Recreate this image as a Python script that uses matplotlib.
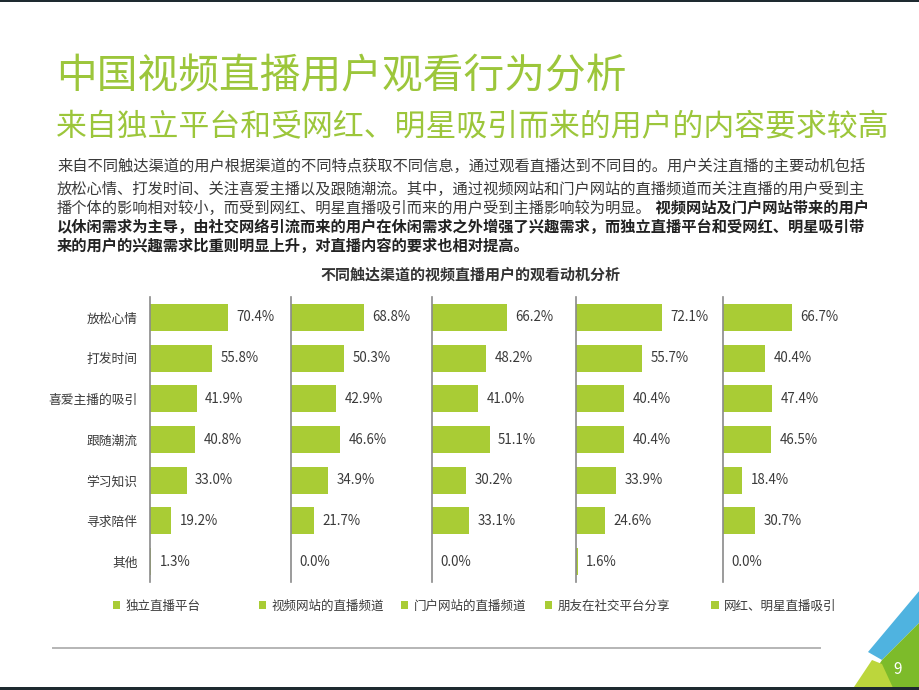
import matplotlib
matplotlib.use('Agg')
import matplotlib.pyplot as plt
from matplotlib.patches import Patch, Polygon, Rectangle
from matplotlib.lines import Line2D

plt.rcParams['font.family'] = ['Noto Sans CJK SC', 'DejaVu Sans']

categories = ['放松心情', '打发时间', '喜爱主播的吸引', '跟随潮流', '学习知识', '寻求陪伴', '其他']
channels = ['独立直播平台', '视频网站的直播频道', '门户网站的直播频道', '朋友在社交平台分享', '网红、明星直播吸引']
independent = [70.4, 55.8, 41.9, 40.8, 33.0, 19.2, 1.3]
video_site = [68.8, 50.3, 42.9, 46.6, 34.9, 21.7, 0.0]
portal = [66.2, 48.2, 41.0, 51.1, 30.2, 33.1, 0.0]
social = [72.1, 55.7, 40.4, 40.4, 33.9, 24.6, 1.6]
celebrity = [66.7, 40.4, 47.4, 46.5, 18.4, 30.7, 0.0]
series = [independent, video_site, portal, social, celebrity]

W, H = 920, 690
GREEN = '#a9cc35'
TITLE_GREEN = '#9cc63b'
TEXT = '#3a3a3a'


def fx(x):
    return x / W


def fy(y):
    return 1 - y / H


fig = plt.figure(figsize=(9.2, 6.9), dpi=100)

# headings
fig.text(fx(56), fy(77), '中国视频直播用户观看行为分析', fontsize=29.3, color=TITLE_GREEN, va='center')
fig.text(fx(56), fy(128), '来自独立平台和受网红、明星吸引而来的用户的内容要求较高', fontsize=22.2,
         color=TITLE_GREEN, va='center')

# paragraph
para = [
    ('来自不同触达渠道的用户根据渠道的不同特点获取不同信息，通过观看直播达到不同目的。用户关注直播的主要动机包括', ''),
    ('放松心情、打发时间、关注喜爱主播以及跟随潮流。其中，通过视频网站和门户网站的直播频道而关注直播的用户受到主', ''),
    ('播个体的影响相对较小，而受到网红、明星直播吸引而来的用户受到主播影响较为明显。', ' 视频网站及门户网站带来的用户'),
    ('', '以休闲需求为主导，由社交网络引流而来的用户在休闲需求之外增强了兴趣需求，而独立直播平台和受网红、明星吸引带'),
    ('', '来的用户的兴趣需求比重则明显上升，对直播内容的要求也相对提高。'),
]
line_y = [166, 189, 208, 227, 246]
renderer = fig.canvas.get_renderer()
for (normal, bold), y in zip(para, line_y):
    x = fx(57)
    if normal:
        t = fig.text(x, fy(y), normal, fontsize=11.0, color=TEXT, va='center')
        bb = t.get_window_extent(renderer=renderer)
        x = bb.x1 / fig.bbox.width
    if bold:
        fig.text(x, fy(y), bold, fontsize=11.0, color='#222222', fontweight='bold', va='center')

fig.text(fx(470), fy(275), '不同触达渠道的视频直播用户的观看动机分析', fontsize=10.8,
         fontweight='bold', color='#333333', ha='center', va='center')

# panels
axis_x = [150, 291, 432, 576, 723]
px_per_pct = [1.11, 1.06, 1.13, 1.19, 1.04]
legend_x = [113, 259, 401, 545, 711]
panel_w = 120
top, bottom = 297, 582

for k, vals in enumerate(series):
    ax = fig.add_axes([fx(axis_x[k]), fy(bottom), panel_w / W, (bottom - top) / H])
    ypos = list(range(len(categories)))
    ax.barh(ypos, vals, height=0.66, color=GREEN)
    for yy, v in zip(ypos, vals):
        ax.annotate(f'{v:.1f}%', (v, yy), xytext=(6, 0), textcoords='offset points',
                    va='center', ha='left', fontsize=9.6, color=TEXT, annotation_clip=False)
    ax.set_xlim(0, panel_w / px_per_pct[k])
    ax.set_ylim(len(categories) - 0.5, -0.5)
    for s in ['top', 'right', 'bottom']:
        ax.spines[s].set_visible(False)
    ax.spines['left'].set_color('#8a8a8a')
    ax.spines['left'].set_linewidth(1.2)
    ax.set_xticks([])
    ax.set_yticks(ypos)
    if k == 0:
        ax.set_yticklabels(categories, fontsize=9.2, color=TEXT)
    else:
        ax.set_yticklabels([])
    ax.tick_params(axis='y', length=0, pad=9)
    ax.patch.set_alpha(0)

    handle = Patch(facecolor=GREEN, edgecolor='none')
    ax.legend([handle], [channels[k]], loc='center left', bbox_to_anchor=(fx(legend_x[k]), fy(606)),
              bbox_transform=fig.transFigure, frameon=False, fontsize=9, handlelength=0.6,
              handleheight=0.6, handletextpad=0.4, borderpad=0, borderaxespad=0, labelcolor=TEXT)

# footer line
fig.add_artist(Line2D([fx(53), fx(820)], [fy(648), fy(648)], color='#b5b5b5', lw=1.4))

# corner decoration
def poly(pts, color):
    fig.add_artist(Polygon([(fx(x), fy(y)) for x, y in pts], closed=True, facecolor=color,
                           edgecolor='none'))


poly([(920, 590), (920, 622), (882, 660), (868, 652)], '#4fb3e0')
poly([(920, 622), (920, 690), (862, 690), (882, 660)], '#7dbb2a')
poly([(852, 690), (872, 660), (882, 664), (894, 690)], '#bcd63c')
fig.text(fx(898), fy(670), '9', fontsize=11, color='white', ha='center', va='center')

# dark edges
fig.add_artist(Rectangle((0, fy(2)), 1, 2 / H, facecolor='#1e2a30', edgecolor='none'))
fig.add_artist(Rectangle((0, 0), 1, 3 / H, facecolor='#1e2a30', edgecolor='none'))

fig.savefig('out.png', dpi=100)
